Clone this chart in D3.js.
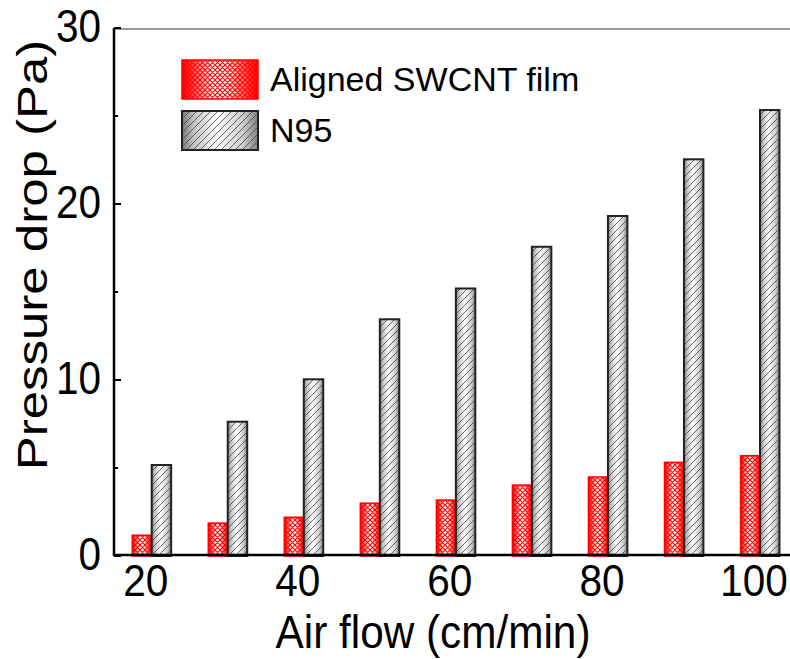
<!DOCTYPE html>
<html><head><meta charset="utf-8">
<script src="https://cdn.jsdelivr.net/npm/d3@7"></script>
<style>body{margin:0;background:#fff}svg{display:block}text{font-family:"Liberation Sans",Arial,sans-serif;fill:#000}</style>
</head><body>
<svg id="c" width="790" height="659"></svg>
<script>
const airFlow = [20, 30, 40, 50, 60, 70, 80, 90, 100];
const swcnt = [1.18, 1.87, 2.2, 3.0, 3.18, 4.03, 4.49, 5.32, 5.7];
const n95 = [5.17, 7.63, 10.04, 13.45, 15.2, 17.57, 19.32, 22.54, 25.34];
const xTicks = [20, 40, 60, 80, 100];
const yTicks = [0, 10, 20, 30];
const yMinor = [5, 15, 25];
const seriesNames = ["Aligned SWCNT film", "N95"];

const svg = d3.select("#c");
const defs = svg.append("defs");
const x = d3.scaleLinear().domain([20, 100]).range([151.7, 760]);
const y = d3.scaleLinear().domain([0, 30]).range([556, 28]);
const bw = (x(30) - x(20)) * 0.256;

// gradients
const gr = defs.append("linearGradient").attr("id", "gRed").attr("x1", 0).attr("x2", 1).attr("y1", 0).attr("y2", 0);
[[0, "#ff0000"], [0.1, "#ff3030"], [0.4, "#ffffff"], [0.6, "#fff4f4"], [0.9, "#ff3030"], [1, "#ff0000"]].forEach(s => gr.append("stop").attr("offset", s[0]).attr("stop-color", s[1]));
const gg = defs.append("linearGradient").attr("id", "gGray").attr("x1", 0).attr("x2", 1).attr("y1", 0).attr("y2", 0);
[[0, "#7a7a7a"], [0.15, "#c0c0c0"], [0.45, "#ffffff"], [0.8, "#cccccc"], [1, "#808080"]].forEach(s => gg.append("stop").attr("offset", s[0]).attr("stop-color", s[1]));

// patterns
const pr = defs.append("pattern").attr("id", "pRed").attr("patternUnits", "userSpaceOnUse").attr("width", 5).attr("height", 5);
pr.append("path").attr("d", "M0,0L5,5M5,0L0,5M-1,4L1,6M4,-1L6,1M-1,1L1,-1M4,6L6,4").attr("stroke", "#ff0000").attr("stroke-width", 1.1);
const pg = defs.append("pattern").attr("id", "pGray").attr("patternUnits", "userSpaceOnUse").attr("width", 7).attr("height", 7);
pg.append("path").attr("d", "M-1,8L8,-1M-2,2L2,-2M5,9L9,5").attr("stroke", "#555").attr("stroke-width", 0.9);

// bars
const g = svg.append("g");
airFlow.forEach((v, i) => {
  g.append("rect").attr("x", x(v) - bw).attr("y", y(swcnt[i])).attr("width", bw).attr("height", y(0) - y(swcnt[i])).attr("fill", "url(#gRed)");
  g.append("rect").attr("x", x(v) - bw).attr("y", y(swcnt[i])).attr("width", bw).attr("height", y(0) - y(swcnt[i])).attr("fill", "url(#pRed)").attr("stroke", "#ff0000").attr("stroke-width", 1.5);
  g.append("rect").attr("x", x(v)).attr("y", y(n95[i])).attr("width", bw).attr("height", y(0) - y(n95[i])).attr("fill", "url(#gGray)");
  g.append("rect").attr("x", x(v)).attr("y", y(n95[i])).attr("width", bw).attr("height", y(0) - y(n95[i])).attr("fill", "url(#pGray)").attr("stroke", "#222").attr("stroke-width", 2);
});

// axes lines
svg.append("line").attr("x1", 114).attr("x2", 790).attr("y1", y(30) + 1).attr("y2", y(30) + 1).attr("stroke", "#333").attr("stroke-width", 1.2);
svg.append("line").attr("x1", 114).attr("x2", 114).attr("y1", y(30)).attr("y2", y(0)).attr("stroke", "#000").attr("stroke-width", 2.5);
svg.append("line").attr("x1", 113).attr("x2", 790).attr("y1", y(0) - 1).attr("y2", y(0) - 1).attr("stroke", "#000").attr("stroke-width", 2.5);

// y ticks
yTicks.forEach(t => {
  svg.append("line").attr("x1", 114).attr("x2", 121).attr("y1", y(t)).attr("y2", y(t)).attr("stroke", "#000").attr("stroke-width", 2);
  svg.append("text").attr("transform", `translate(101,${y(t) - 2}) scale(0.88,1)`).attr("text-anchor", "end").attr("dominant-baseline", "central").attr("font-size", 46).text(t);
});
yMinor.forEach(t => {
  svg.append("line").attr("x1", 114).attr("x2", 118).attr("y1", y(t)).attr("y2", y(t)).attr("stroke", "#000").attr("stroke-width", 2);
});
// x tick labels
xTicks.forEach(t => {
  svg.append("text").attr("transform", `translate(${x(t) - 6},${596}) scale(0.9,1)`).attr("text-anchor", "middle").attr("font-size", 45).text(t);
});

// titles
svg.append("text").attr("transform", "translate(433,648) scale(0.92,1)").attr("text-anchor", "middle").attr("font-size", 46).text("Air flow (cm/min)");
svg.append("text").attr("transform", "translate(47,255) rotate(-90) scale(1,0.85)").attr("text-anchor", "middle").attr("font-size", 51).text("Pressure drop (Pa)");

// legend
const lg = svg.append("g");
[["url(#gRed)", "url(#pRed)", "#ff0000", 1.5, 60], ["url(#gGray)", "url(#pGray)", "#222", 2, 111]].forEach((d, i) => {
  lg.append("rect").attr("x", 182).attr("y", d[4]).attr("width", 76).attr("height", 39).attr("fill", d[0]);
  lg.append("rect").attr("x", 182).attr("y", d[4]).attr("width", 76).attr("height", 39).attr("fill", d[1]).attr("stroke", d[2]).attr("stroke-width", d[3]);
  lg.append("text").attr("x", 270).attr("y", d[4] + 31).attr("font-size", 34).text(seriesNames[i]);
});
</script>
</body></html>
